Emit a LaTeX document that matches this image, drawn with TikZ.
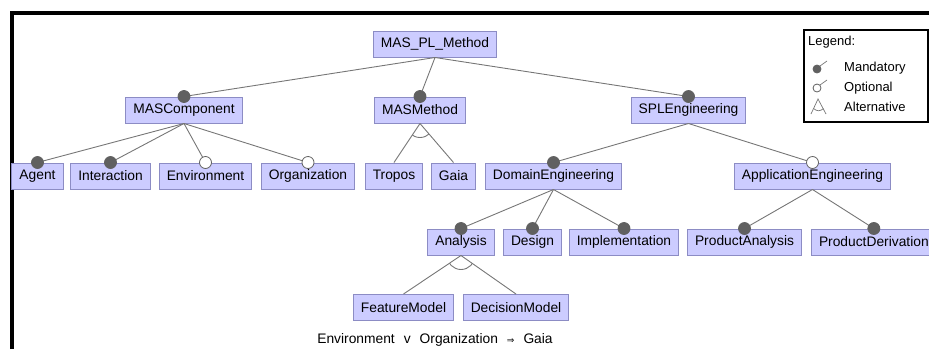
\documentclass[tikz,border=0pt]{standalone}
\usepackage{fontspec}
\setmainfont{Liberation Sans}
\newfontfamily\symfont{DejaVu Sans}
\usetikzlibrary{calc}
\definecolor{featfill}{RGB}{204,204,255}
\definecolor{featline}{RGB}{140,140,196}
\definecolor{linkgray}{RGB}{118,118,118}
\definecolor{dotgray}{RGB}{96,96,96}
\tikzset{feature/.style={draw=featline,fill=featfill,line width=1pt,minimum height=26pt,inner xsep=7.5pt,inner ysep=0pt,font=\fontsize{13.8}{16}\selectfont}}
\tikzset{link/.style={draw=linkgray,line width=0.9pt}}
\tikzset{mandot/.style={fill=dotgray,draw=dotgray,line width=0.8pt}}
\tikzset{optdot/.style={fill=white,draw=dotgray,line width=0.8pt}}
\tikzset{legendtext/.style={anchor=west,inner sep=0pt,font=\fontsize{13}{15}\selectfont}}
\newcommand{\mandlink}[2]{\draw[link] (#1.south) -- (#2.north);
  \filldraw[mandot] (#2.north) circle (6pt);}
\newcommand{\optlink}[2]{\draw[link] (#1.south) -- (#2.north);
  \filldraw[optdot] (#2.north) circle (6pt);}
\newcommand{\altgroup}[3]{\draw[link] (#1.south) -- (#2.north);
  \draw[link] (#1.south) -- (#3.north);
  \begin{scope}
    \clip (#1.south) -- (#2.north) -- (#3.north) -- cycle;
    \draw[link] (#1.south) circle (14pt);
  \end{scope}}

\begin{document}
\begin{tikzpicture}[x=1pt,y=-1pt]

	\useasboundingbox (0,0) rectangle (929,349);
	\clip (0,0) rectangle (929,349);

	%% Frame
	\draw[line width=4pt] (12,349) -- (12,13) -- (929,13);
	%%

	\node[feature] (root) at (435,44) {MAS\_PL\_Method};

	\node[feature] (masComp) at (184,110) {MASComponent};
	\node[feature] (masMeth) at (420,110) {MASMethod};
	\node[feature] (splEng) at (688.5,110) {SPLEngineering};

	\node[feature] (agent) at (37.5,176) {Agent};
	\node[feature] (interaction) at (110.5,176) {Interaction};
	\node[feature] (environment) at (205.5,176) {Environment};
	\node[feature] (organization) at (308,176) {Organization};
	\node[feature] (tropos) at (394,176) {Tropos};
	\node[feature] (gaia) at (453.5,176) {Gaia};
	\node[feature] (domainEng) at (553.5,176) {DomainEngineering};
	\node[feature] (applEng) at (812.5,176) {ApplicationEngineering};

	\node[feature] (analysis) at (461,242) {Analysis};
	\node[feature] (design) at (532.5,242) {Design};
	\node[feature] (implementation) at (624,242) {Implementation};
	\node[feature] (prodAnalysis) at (744.5,242) {ProductAnalysis};
	\node[feature,anchor=west] (prodDerivation) at (811,242) {ProductDerivation};

	\node[feature] (featureModel) at (403.5,307.5) {FeatureModel};
	\node[feature] (decisionModel) at (516,307.5) {DecisionModel};

	%% Relations
	\mandlink{root}{masComp}
	\mandlink{root}{masMeth}
	\mandlink{root}{splEng}
	\mandlink{masComp}{agent}
	\mandlink{masComp}{interaction}
	\optlink{masComp}{environment}
	\optlink{masComp}{organization}
	\altgroup{masMeth}{tropos}{gaia}
	\mandlink{splEng}{domainEng}
	\optlink{splEng}{applEng}
	\mandlink{domainEng}{analysis}
	\mandlink{domainEng}{design}
	\mandlink{domainEng}{implementation}
	\mandlink{applEng}{prodAnalysis}
	\mandlink{applEng}{prodDerivation}
	\altgroup{analysis}{featureModel}{decisionModel}
	%%

	\node[font=\fontsize{13.8}{16}\selectfont] (constraint) at (435,340) {Environment\hspace{9pt}v\hspace{9pt}Organization\hspace{9pt}{\symfont\fontsize{9}{10}\selectfont ⇒}\hspace{9pt}Gaia};

	%% Legend
	\draw[line width=1.1pt] (804,30) rectangle (928,122);
	\node[legendtext] (legendTitle) at (808,42) {Legend:};
	\node[legendtext] (legMand) at (844,68) {Mandatory};
	\node[legendtext] (legOpt) at (844,88) {Optional};
	\node[legendtext] (legAlt) at (844,107) {Alternative};
	\draw[linkgray,line width=0.7pt] (820,66) -- (827,61);
	\filldraw[mandot] (817,69) circle (4pt);
	\draw[linkgray,line width=0.7pt] (820,85) -- (827,80);
	\filldraw[optdot] (817,88) circle (4pt);
	\draw[linkgray,line width=0.7pt] (811,114) -- (818,99) -- (826,114);
	\draw[linkgray,line width=0.7pt] (813.5,108.5) .. controls (817,111.5) and (820,111.5) .. (823.5,108.5);

\end{tikzpicture}
\end{document}
